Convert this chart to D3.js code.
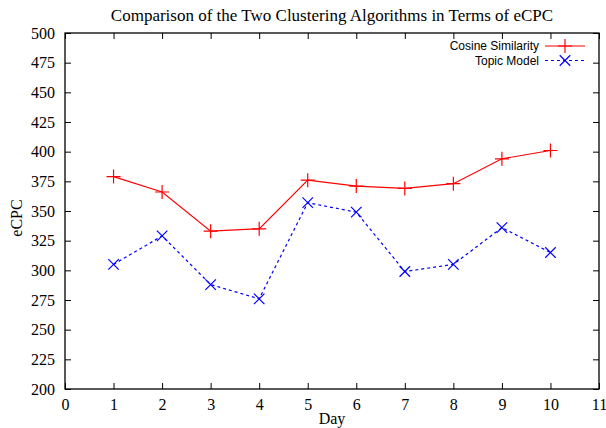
<!DOCTYPE html>
<html><head><meta charset="utf-8">
<script src="https://cdn.jsdelivr.net/npm/d3@7"></script>
<style>body{margin:0;background:#fff}svg{display:block}</style>
</head><body>
<script>
const days = [1,2,3,4,5,6,7,8,9,10];
const cosine = [379,366,333,335,376,371,369,373,394,401];
const topic = [305,329,288,276,357,349,299,305,336,315];
const xTicks = d3.range(0,12);
const yTicks = d3.range(200,501,25);
const seriesNames = ["Cosine Similarity","Topic Model"];

const W=606,H=428, m={l:65,r:7,t:33,b:39};
const svg=d3.select("body").append("svg").attr("width",W).attr("height",H);
const x=d3.scaleLinear().domain([0,11]).range([m.l,W-m.r]);
const y=d3.scaleLinear().domain([200,500]).range([H-m.b,m.t]);
const serif="'Liberation Serif','Times New Roman',serif";
const sans="'Liberation Sans',Arial,sans-serif";
const tl=6;

const gB=svg.append("g").attr("transform",`translate(0,${y(200)})`)
 .call(d3.axisBottom(x).tickValues(xTicks).tickSizeInner(-tl).tickSizeOuter(0).tickPadding(10));
const gT=svg.append("g").attr("transform",`translate(0,${y(500)})`)
 .call(d3.axisTop(x).tickValues(xTicks).tickSizeInner(-tl).tickSizeOuter(0).tickFormat(""));
const gL=svg.append("g").attr("transform",`translate(${x(0)},0)`)
 .call(d3.axisLeft(y).tickValues(yTicks).tickSizeInner(-tl).tickSizeOuter(0).tickPadding(10));
const gR=svg.append("g").attr("transform",`translate(${x(11)},0)`)
 .call(d3.axisRight(y).tickValues(yTicks).tickSizeInner(-tl).tickSizeOuter(0).tickFormat(""));
[gB,gT,gL,gR].forEach(g=>{
  g.selectAll("path.domain").remove();
  g.selectAll("line").attr("stroke","#000").attr("stroke-width",1);
  g.selectAll("text").attr("font-family",serif).attr("font-size",16).attr("fill","#000");
});
gB.selectAll("text").attr("dy","0.71em");
svg.append("rect").attr("x",x(0)).attr("y",y(500)).attr("width",x(11)-x(0)).attr("height",y(200)-y(500))
 .attr("fill","none").attr("stroke","#000").attr("stroke-width",1.3);

svg.append("text").attr("x",332).attr("y",21).attr("text-anchor","middle")
 .attr("font-family",serif).attr("font-size",17).text("Comparison of the Two Clustering Algorithms in Terms of eCPC");
svg.append("text").attr("x",332).attr("y",424).attr("text-anchor","middle")
 .attr("font-family",serif).attr("font-size",16).text("Day");
svg.append("text").attr("transform","translate(22,218) rotate(-90)").attr("text-anchor","middle")
 .attr("font-family",serif).attr("font-size",16).text("eCPC");

const line=d3.line().x((d,i)=>x(days[i])).y(d=>y(d));
const ps=7;
function plus(g,cx,cy,c){g.append("path").attr("d",`M${cx-ps},${cy}H${cx+ps}M${cx},${cy-ps}V${cy+ps}`).attr("stroke",c).attr("stroke-width",1.2).attr("fill","none");}
function cross(g,cx,cy,c){const s=ps*0.75;g.append("path").attr("d",`M${cx-s},${cy-s}L${cx+s},${cy+s}M${cx-s},${cy+s}L${cx+s},${cy-s}`).attr("stroke",c).attr("stroke-width",1.2).attr("fill","none");}

const gC=svg.append("g");
gC.append("path").datum(cosine).attr("d",line).attr("fill","none").attr("stroke","#ff0000").attr("stroke-width",1.2);
cosine.forEach((v,i)=>plus(gC,x(days[i]),y(v),"#ff0000"));
const gTm=svg.append("g");
gTm.append("path").datum(topic).attr("d",line).attr("fill","none").attr("stroke","#0000ff").attr("stroke-width",1.2).attr("stroke-dasharray","3,3");
topic.forEach((v,i)=>cross(gTm,x(days[i]),y(v),"#0000ff"));

const lg=svg.append("g");
[0,1].forEach(i=>{
  const yy=46+i*14.5;
  lg.append("text").attr("x",539).attr("y",yy+4).attr("text-anchor","end")
   .attr("font-family",sans).attr("font-size",12).text(seriesNames[i]);
  const c=i?"#0000ff":"#ff0000";
  lg.append("line").attr("x1",545).attr("x2",585).attr("y1",yy).attr("y2",yy).attr("stroke",c).attr("stroke-width",1)
   .attr("stroke-dasharray",i?"3,3":null);
  if(i) cross(lg,565,yy,c); else plus(lg,565,yy,c);
});
</script>
</body></html>
